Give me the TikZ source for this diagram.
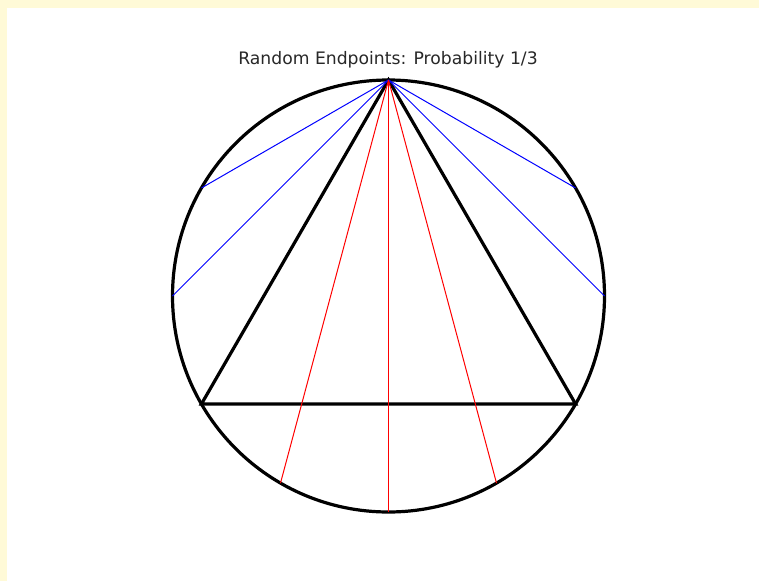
\documentclass[tikz,border=0pt]{standalone}
\usepackage{fontspec}
\setmainfont{DejaVu Sans}
\definecolor{bgyellow}{RGB}{255,250,215}
\definecolor{titlegrey}{RGB}{40,40,40}
\begin{document}
\begin{tikzpicture}[x=1pt,y=-1pt,
  thick line/.style={draw=black,line width=3.2pt,line join=miter},
  blue chord/.style={draw=blue,line width=1pt},
  red chord/.style={draw=red,line width=1pt}]
\fill[bgyellow] (0,0) rectangle (759,581);
\fill[white] (7,7.5) rectangle (759,581);
\useasboundingbox (0,0) rectangle (759,581);
\coordinate (O) at (388.5,296);
\node[anchor=base,text=titlegrey,inner sep=0pt,font=\fontsize{17.2}{20}\selectfont] (title) at (388,64) {Random Endpoints: Probability 1/3};
% circle and triangle
\draw[thick line] (O) circle[radius=216];
\coordinate (A) at (388.5,80);
\coordinate (B) at (201.44,404);
\coordinate (C) at (575.56,404);
\draw[thick line] (A) -- (B) -- (C) -- cycle;
% chord endpoints
\coordinate (b1) at (201.44,188);
\coordinate (b2) at (172.5,296);
\coordinate (b3) at (575.56,188);
\coordinate (b4) at (604.5,296);
\coordinate (r1) at (280.5,483.06);
\coordinate (r2) at (388.5,512);
\coordinate (r3) at (496.5,483.06);
\foreach \p in {b1,b2,b3,b4} \draw[blue chord] (A) -- (\p);
\foreach \p in {r1,r2,r3} \draw[red chord] (A) -- (\p);
\end{tikzpicture}
\end{document}
